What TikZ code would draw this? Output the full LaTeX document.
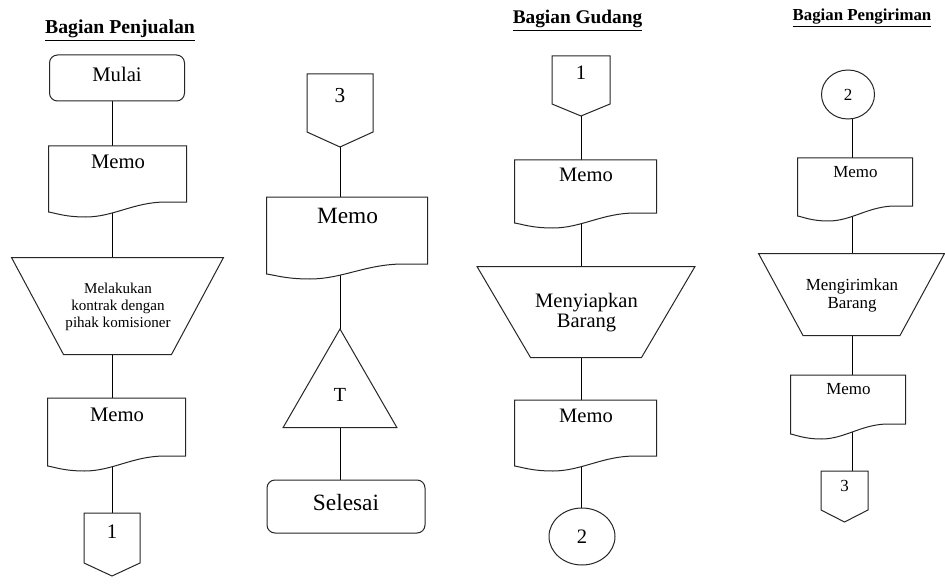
\documentclass[tikz,border=0pt]{standalone}
\usepackage{fontspec}
\setmainfont{Liberation Serif}
\usetikzlibrary{shapes.geometric}
\pgfdeclarelayer{bg}
\pgfsetlayers{bg,main}
\newcommand{\fs}[2]{\fontsize{#1}{#2}\selectfont}

\tikzset{
  terminal/.style 2 args={draw, fill=white, rounded corners=6pt, inner sep=0pt, text depth=6pt,
    minimum width=#1*0.75pt, minimum height=#2*0.75pt},
  memo/.style 2 args={inner sep=0pt, anchor=north,
    minimum width=#1*0.75pt, minimum height=#2*0.75pt,
    /utils/exec={\pgfmathsetlengthmacro\memoht{#2*0.3075pt}\pgfmathsetlengthmacro\memodp{#2*0.4425pt}},
    text height=\memoht, text depth=\memodp,
    append after command={\pgfextra{
      \draw[fill=white, shift={(\tikzlastnode.south west)}] (0,10) -- (0,-#2) -- (#1,-#2) -- (#1,0) -- ({0.85*#1},0)
        .. controls ({0.62*#1},0) and ({0.47*#1},15) .. ({0.27*#1},15)
        .. controls ({0.12*#1},15) and ({0.05*#1},11) .. (0,10) -- cycle;
    }}},
  proses/.style n args={3}{inner sep=0pt, align=center,
    minimum width=#1*0.75pt, minimum height=#2*0.75pt,
    append after command={\pgfextra{
      \draw[fill=white, shift={(\tikzlastnode.north west)}] (0,0) -- (#1,0) -- ({#1-#3},#2) -- (#3,#2) -- cycle;
    }}},
  offpage/.style n args={4}{inner sep=0pt,
    append after command={\pgfextra{
      \draw[fill=white, shift={(\tikzlastnode.center)}] ({-#1/2},-#2) -- ({#1/2},-#2) -- ({#1/2},#3)
        -- (0,{#3+#4}) -- ({-#1/2},#3) -- cycle;
    }}},
  onpage/.style 2 args={ellipse, draw, fill=white, inner sep=0pt,
    minimum width=#1*0.75pt, minimum height=#2*0.75pt},
  arsip/.style={regular polygon, regular polygon sides=3, draw, fill=white, inner sep=0pt,
    minimum size=98.7pt, anchor=corner 1}
}

\begin{document}
\begin{tikzpicture}[x=0.75pt, y=-0.75pt, line width=0.75pt, draw=black!85]
\useasboundingbox (0,0) rectangle (945,588);

% Bagian Penjualan
\node[anchor=base, font=\fs{14.8}{16}\bfseries] (jPenjualan) at (120,34) {\underline{Bagian Penjualan}};
\begin{scope}[font=\fs{15.5}{17}]
\node[terminal={135}{46}] (mulai) at (117,78) {Mulai};
\node[memo={138}{56}] (memoA) at (118,145) {Memo};
\node[proses={212}{97}{52}, font=\fs{11.3}{12.7}] (kontrak) at (118,306.5) {Melakukan\\kontrak dengan\\pihak komisioner};
\node[memo={138}{58}] (memoB) at (117,397) {Memo};
\node[offpage={56}{19}{31}{13}] (keluar1) at (112,532) {1};
\end{scope}

% arsip
\node[offpage={66}{21.5}{36.5}{15}, font=\fs{16}{18}] (masuk3) at (340,95.5) {3};
\node[memo={161}{67}, font=\fs{17.5}{20}] (memoC) at (347.5,196) {Memo};
\node[arsip, font=\fs{15}{17}] (arsipT) at (340,328) {T};
\node[terminal={158}{53}, font=\fs{17.5}{20}] (selesai) at (346,506.5) {Selesai};

% Bagian Gudang
\node[anchor=base, font=\fs{14.5}{16}\bfseries] (jGudang) at (577.5,24) {\underline{Bagian Gudang}};
\begin{scope}[font=\fs{15.4}{15.5}]
\node[offpage={58}{17}{31}{12}] (masuk1) at (581,73) {1};
\node[memo={142}{53}] (memoD) at (586,159) {Memo};
\node[proses={218}{91}{53.5}] (siapkan) at (586.5,312.5) {Menyiapkan\\Barang};
\node[memo={142}{56}] (memoE) at (586,399) {Memo};
\node[onpage={66}{57}] (keluar2) at (582,536.5) {2};
\end{scope}

% Bagian Pengiriman
\node[anchor=base, font=\fs{12.6}{14}\bfseries] (jPengiriman) at (862,21) {\underline{Bagian Pengiriman}};
\begin{scope}[font=\fs{12.7}{13.5}]
\node[onpage={53}{49}] (masuk2) at (848,94.5) {2};
\node[memo={115}{48}] (memoF) at (855.5,157) {Memo};
\node[proses={186}{82}{44.5}] (kirim) at (852,295) {Mengirimkan\\Barang};
\node[memo={115}{49}] (memoG) at (848.5,374) {Memo};
\node[offpage={47}{15}{24}{12}] (keluar3) at (844.5,486) {3};
\end{scope}

\begin{pgfonlayer}{bg}
\foreach \a/\b in {mulai/memoA, memoA/kontrak, kontrak/memoB, memoB/keluar1}
  \draw (\a -| keluar1) -- (\b -| keluar1);
\foreach \a/\b in {masuk3/memoC, memoC/arsipT, arsipT/selesai}
  \draw (\a -| masuk3) -- (\b -| masuk3);
\foreach \a/\b in {masuk1/memoD, memoD/siapkan, siapkan/memoE, memoE/keluar2}
  \draw (\a -| masuk1) -- (\b -| masuk1);
\foreach \a/\b in {masuk2/memoF, memoF/kirim, kirim/memoG, memoG/keluar3}
  \draw (\a -| kirim) -- (\b -| kirim);
\end{pgfonlayer}
\end{tikzpicture}
\end{document}
